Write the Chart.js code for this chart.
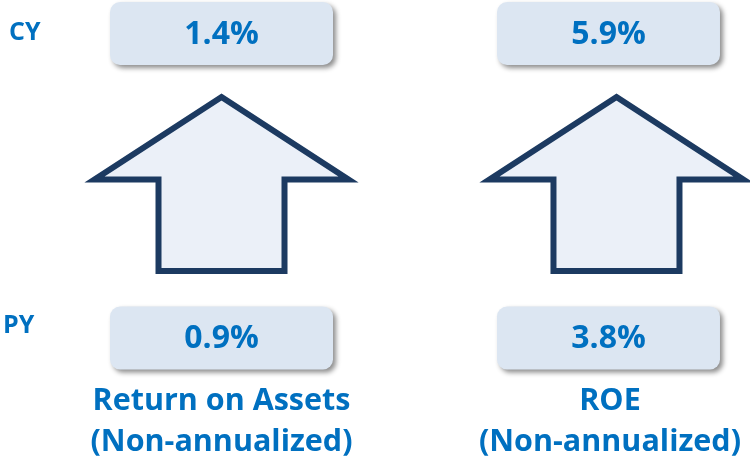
<!DOCTYPE html>
<html>
<head>
<meta charset="utf-8">
<script src="https://cdn.jsdelivr.net/npm/chart.js@4"></script>
<style>
  html, body { margin: 0; padding: 0; background: #fff; }
  #wrap { width: 750px; height: 469px; }
</style>
</head>
<body>
<div id="wrap"><canvas id="chartReturns" width="750" height="469"></canvas></div>
<script>
// data
let metrics = [['Return on Assets', '(Non-annualized)'], ['ROE', '(Non-annualized)']];
let rows = ['CY', 'PY'];
let cyValues = [1.4, 5.9];
let pyValues = [0.9, 3.8];

let blue = '#0070c0';
let font = '"Open Sans", "DejaVu Sans", sans-serif';

function roundBox(ctx, x, y, w, h, r) {
    ctx.beginPath();
    ctx.moveTo(x + r, y);
    ctx.arcTo(x + w, y, x + w, y + h, r);
    ctx.arcTo(x + w, y + h, x, y + h, r);
    ctx.arcTo(x, y + h, x, y, r);
    ctx.arcTo(x, y, x + w, y, r);
    ctx.closePath();
}

let tilesPlugin = {
    id: 'tiles',
    afterDraw(chart) {
        let ctx = chart.ctx;
        let xs = chart.scales.x;
        let ys = chart.scales.y;
        let yCY = ys.getPixelForValue(0);
        let yPY = ys.getPixelForValue(1);
        let arrowShift = [0, 8];

        metrics.forEach((m, i) => {
            let cx = xs.getPixelForValue(i);
            let vals = [cyValues[i], pyValues[i]];

            // boxes with values
            [yCY, yPY].forEach((cy, r) => {
                ctx.save();
                ctx.shadowColor = 'rgba(0,0,0,0.45)';
                ctx.shadowBlur = 5;
                ctx.shadowOffsetX = 3;
                ctx.shadowOffsetY = 3;
                roundBox(ctx, cx - 111.5, cy - 31.5, 223, 63, 10);
                ctx.fillStyle = '#dce6f2';
                ctx.fill();
                ctx.restore();

                ctx.fillStyle = blue;
                ctx.font = 'bold 32px ' + font;
                ctx.textAlign = 'center';
                ctx.textBaseline = 'middle';
                ctx.fillText(vals[r].toFixed(1) + '%', cx, cy + 1);
            });

            // up arrow between the rows
            let ax = cx + arrowShift[i];
            let top = yCY + 63.5;
            let shoulder = yCY + 146;
            let bottom = yPY - 67;
            ctx.save();
            ctx.beginPath();
            ctx.moveTo(ax, top);
            ctx.lineTo(ax + 127, shoulder);
            ctx.lineTo(ax + 63, shoulder);
            ctx.lineTo(ax + 63, bottom);
            ctx.lineTo(ax - 63, bottom);
            ctx.lineTo(ax - 63, shoulder);
            ctx.lineTo(ax - 127, shoulder);
            ctx.closePath();
            ctx.fillStyle = '#ebf0f8';
            ctx.fill();
            ctx.lineWidth = 6;
            ctx.lineJoin = 'miter';
            ctx.miterLimit = 20;
            ctx.strokeStyle = '#1c3a61';
            ctx.stroke();
            ctx.restore();

            // metric label
            ctx.fillStyle = blue;
            ctx.font = 'bold 30.5px ' + font;
            ctx.textAlign = 'center';
            ctx.textBaseline = 'middle';
            m.forEach((line, k) => {
                ctx.fillText(line, cx + i * 1.5, yPY + 63 + k * 41);
            });
        });

        // row labels
        ctx.fillStyle = blue;
        ctx.font = 'bold 25px ' + font;
        ctx.textAlign = 'left';
        ctx.textBaseline = 'middle';
        ctx.fillText(rows[0], 9, yCY - 1);
        ctx.fillText(rows[1], 3, yPY - 12);
    }
};

let contextReturns = document.querySelector('#chartReturns').getContext('2d');

let config = {
    type: 'scatter',
    data: {
        datasets: [{
            data: metrics.map((m, i) => ({ x: i, y: 0 })),
            pointRadius: 0
        }]
    },
    options: {
        responsive: false,
        animation: false,
        layout: { padding: 0 },
        plugins: {
            legend: { display: false },
            tooltip: { enabled: false }
        },
        scales: {
            x: { type: 'linear', display: false, min: -0.5724, max: 1.3657 },
            y: { type: 'linear', display: false, reverse: true, min: -0.110, max: 1.430 }
        }
    },
    plugins: [tilesPlugin]
};

let chartReturns = new Chart(contextReturns, config);
</script>
</body>
</html>
